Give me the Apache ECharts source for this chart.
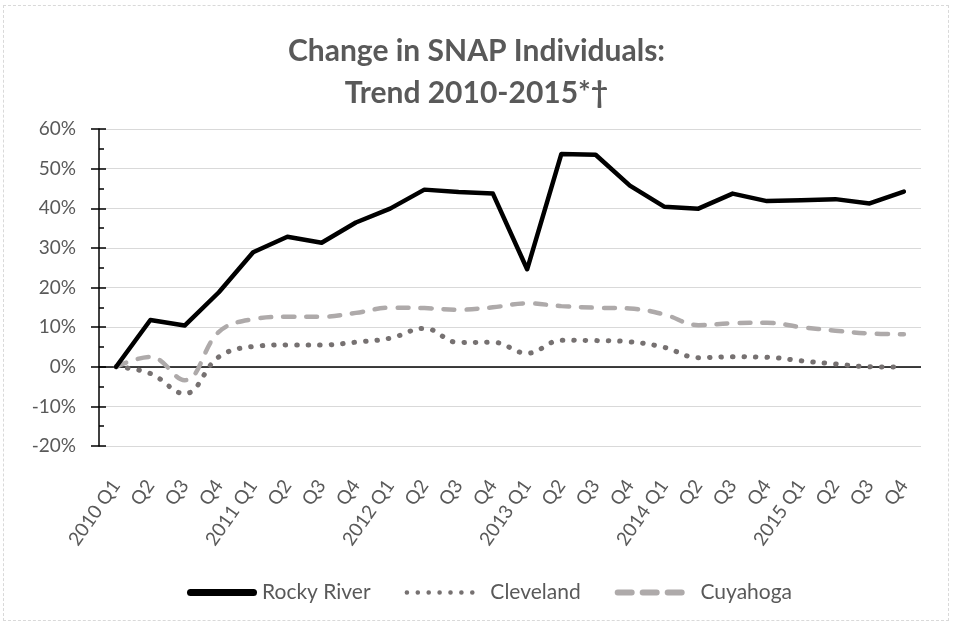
<!DOCTYPE html>
<html>
<head>
<meta charset="utf-8">
<script src="https://cdn.jsdelivr.net/npm/echarts@6/dist/echarts.min.js"></script>
<style>
  html, body { margin: 0; padding: 0; background: #fff; }
  #frame {
    position: absolute; left: 3px; top: 5px; width: 944px; height: 614px;
    border: 1.5px dashed #d9d9d9;
  }
  #chart { position: absolute; left: 0; top: 0; width: 953px; height: 625px; }
</style>
</head>
<body>
<div id="frame"></div>
<div id="chart"></div>
<script>
// quarters 2010 Q1 .. 2015 Q4
const quarters = [
  '2010 Q1', 'Q2', 'Q3', 'Q4',
  '2011 Q1', 'Q2', 'Q3', 'Q4',
  '2012 Q1', 'Q2', 'Q3', 'Q4',
  '2013 Q1', 'Q2', 'Q3', 'Q4',
  '2014 Q1', 'Q2', 'Q3', 'Q4',
  '2015 Q1', 'Q2', 'Q3', 'Q4'
];

// percent change vs 2010 Q1
const rockyRiver = [0, 11.8, 10.4, 18.8, 28.9, 32.8, 31.3, 36.4, 39.9, 44.7, 44.1, 43.7,
  24.6, 53.7, 53.5, 45.7, 40.4, 39.9, 43.7, 41.8, 42.0, 42.3, 41.2, 44.2];
const cleveland = [0, -1.7, -6.8, 2.5, 5.1, 5.5, 5.5, 6.2, 7.2, 9.7, 6.1, 6.2,
  3.4, 6.7, 6.6, 6.3, 4.9, 2.3, 2.5, 2.4, 1.5, 0.7, 0.0, -0.1];
const cuyahoga = [0, 2.5, -3.4, 8.8, 12.0, 12.6, 12.6, 13.6, 14.9, 14.8, 14.4, 15.0,
  16.0, 15.3, 14.9, 14.7, 13.2, 10.5, 11.0, 11.1, 10.0, 9.1, 8.4, 8.2];

const yTicks = { min: -20, max: 60, step: 10 };

const grey = '#595959';
const font = 'Lato, "Open Sans", sans-serif';

// legend icons drawn like the excel line samples
const iconSolid = 'path://M3.5,0H66.5A3.5,3.5,0,0,1,66.5,7H3.5A3.5,3.5,0,0,1,3.5,0Z';
const iconDots = 'path://' + [0, 1, 2, 3, 4, 5, 6].map(k => {
  const x = 10.9 * k;
  return 'M' + x + ',2.3a2.3,2.3 0 1,0 4.6,0a2.3,2.3 0 1,0 -4.6,0';
}).join('');
const iconDash = 'path://M3,0H17A3,3,0,0,1,17,6H3A3,3,0,0,1,3,0Z' +
  'M28,0H42A3,3,0,0,1,42,6H28A3,3,0,0,1,28,0Z' +
  'M53,0H67A3,3,0,0,1,67,6H53A3,3,0,0,1,53,0Z';

const chart = echarts.init(document.getElementById('chart'));

const yBase = {
  type: 'value',
  min: yTicks.min,
  max: yTicks.max,
  interval: yTicks.step,
  position: 'left'
};

chart.setOption({
  animation: false,
  title: {
    text: 'Change in SNAP Individuals:\nTrend 2010-2015*\u2020',
    left: 'center',
    top: 25,
    textStyle: {
      fontFamily: font,
      fontWeight: 'bold',
      fontSize: 30,
      lineHeight: 42,
      color: grey
    }
  },
  legend: {
    top: 577,
    left: 182,
    itemWidth: 70,
    itemHeight: 7,
    itemGap: 34,
    itemStyle: { borderWidth: 0 },
    formatter: name => name === 'Rocky River' ? name : '  ' + name,
    textStyle: { fontFamily: font, fontSize: 21, color: grey },
    data: [
      { name: 'Rocky River', icon: iconSolid },
      { name: 'Cleveland', icon: iconDots },
      { name: 'Cuyahoga', icon: iconDash }
    ]
  },
  grid: { left: 99, right: 32, top: 129, bottom: 179 },
  xAxis: {
    type: 'category',
    data: quarters,
    boundaryGap: true,
    axisLine: { show: false, onZero: false },
    axisTick: { show: false },
    axisLabel: {
      interval: 0,
      rotate: 55,
      margin: 36,
      fontFamily: font,
      fontSize: 19,
      color: grey
    },
    splitLine: { show: false }
  },
  yAxis: [
    Object.assign({}, yBase, {
      axisLine: { show: true, lineStyle: { color: '#000', width: 1.5 } },
      axisTick: { show: true, inside: false, length: 8, lineStyle: { color: '#000', width: 1.5 } },
      axisLabel: {
        margin: 23,
        fontFamily: font,
        fontSize: 19,
        color: grey,
        formatter: v => v + '%'
      },
      splitLine: { show: true, lineStyle: { color: '#d9d9d9', width: 1.2 } }
    }),
    Object.assign({}, yBase, {
      axisLine: { show: false },
      axisTick: { show: true, inside: true, length: 7, lineStyle: { color: '#000', width: 1.5 } },
      minorTick: { show: true, splitNumber: 2, length: 5, lineStyle: { color: '#000', width: 1.5 } },
      axisLabel: { show: false },
      splitLine: { show: false }
    })
  ],
  series: [
    {
      name: 'Rocky River',
      type: 'line',
      data: rockyRiver,
      symbol: 'none',
      lineStyle: { color: '#000', width: 4.5, cap: 'round', join: 'round' },
      itemStyle: { color: '#000' },
      z: 5,
      markLine: {
        silent: true,
        symbol: 'none',
        label: { show: false },
        lineStyle: { color: '#000', width: 1.5, type: 'solid' },
        data: [{ yAxis: 0 }],
        z: 1
      }
    },
    {
      name: 'Cleveland',
      type: 'line',
      data: cleveland,
      symbol: 'none',
      smooth: 0.4,
      lineStyle: { color: '#767171', width: 5, type: [0.5, 11], cap: 'round' },
      itemStyle: { color: '#767171' },
      z: 3
    },
    {
      name: 'Cuyahoga',
      type: 'line',
      data: cuyahoga,
      symbol: 'none',
      smooth: 0.4,
      lineStyle: { color: '#AEAAAA', width: 4.5, type: [11, 12], cap: 'round' },
      itemStyle: { color: '#AEAAAA' },
      z: 4
    }
  ]
});
</script>
</body>
</html>
